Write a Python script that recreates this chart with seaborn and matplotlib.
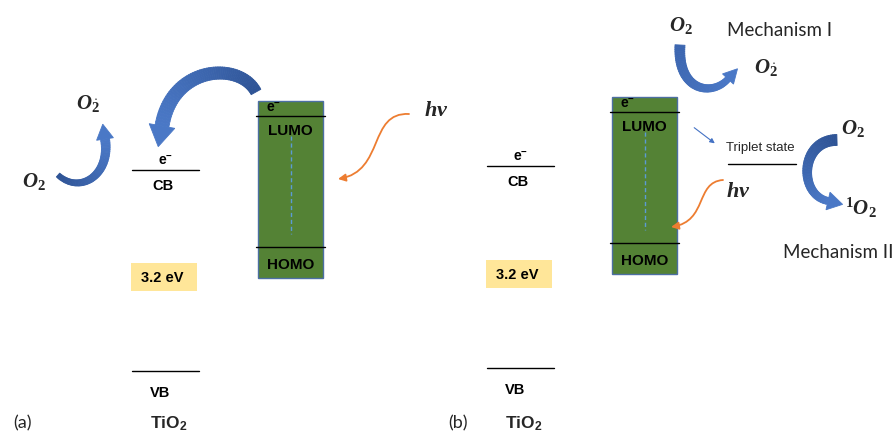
import numpy as np
import pandas as pd
import seaborn as sns
import matplotlib
matplotlib.use("Agg")
import matplotlib.pyplot as plt
from matplotlib.patches import Rectangle, Polygon, FancyArrowPatch
from matplotlib.collections import PolyCollection
from matplotlib.colors import LinearSegmentedColormap
from matplotlib.path import Path

# ---- diagram content -------------------------------------------------------
panel_labels = ["(a)", "(b)"]
panel_x = [23, 458]                 # label column for (a)/(b)
tio2_left = [132, 487]              # TiO2 band lines start
tio2_cb = [171, 167]                # conduction band level
tio2_vb = [372, 369]                # valence band level
gap_box_top = [264, 261]
gap_text = "3.2 eV"

dye_left = [258, 612]
dye_top = [102, 98]
dye_bottom = [279, 275]
dye_lumo = [117, 113]
dye_homo = [248, 244]

triplet_level = 165
triplet_left = 728

BAND_W = 67
DYE_W = 65

GREEN = "#548235"
ORANGE = "#ED7D31"
BLUE_DARK = "#2E5395"
BLUE_LIGHT = "#4A78C6"

sns.set_theme(style="white")
plt.rcParams["font.family"] = ["Liberation Sans", "DejaVu Sans"]
plt.rcParams.update({
    "mathtext.fontset": "custom",
    "mathtext.rm": "Liberation Serif",
    "mathtext.it": "Liberation Serif:italic",
    "mathtext.bf": "Liberation Serif:bold",
    "mathtext.bfit": "Liberation Serif:italic:bold",
    "mathtext.sf": "Liberation Sans:bold",
})

fig = plt.figure(figsize=(8.94, 4.35), dpi=100)
ax = fig.add_axes([0, 0, 1, 1])


def cubic(ctrl, n=60):
    c = np.asarray(ctrl, float)
    t = np.linspace(0, 1, n)[:, None]
    return ((1 - t) ** 3 * c[0] + 3 * (1 - t) ** 2 * t * c[1]
            + 3 * (1 - t) * t ** 2 * c[2] + t ** 3 * c[3])


def block_arrow(ctrl, w0, w1, head_w, head_len, c0=BLUE_DARK, c1=BLUE_LIGHT, n=60):
    """Thick curved arrow with a colour gradient from tail to head."""
    pts = cubic(ctrl, n)
    d = np.gradient(pts, axis=0)
    d /= np.linalg.norm(d, axis=1, keepdims=True)
    nrm = np.stack([-d[:, 1], d[:, 0]], axis=1)
    w = np.linspace(w0, w1, n)[:, None] / 2
    left, right = pts + nrm * w, pts - nrm * w
    cmap = LinearSegmentedColormap.from_list("blk", [c0, c1])
    quads = [[left[i], left[i + 1], right[i + 1], right[i]] for i in range(n - 1)]
    cols = cmap(np.linspace(0, 1, n - 1))
    ax.add_collection(PolyCollection(quads, facecolors=cols, edgecolors=cols,
                                     linewidths=0.6, zorder=3))
    tip = pts[-1] + d[-1] * head_len
    head = [pts[-1] + nrm[-1] * head_w / 2, tip, pts[-1] - nrm[-1] * head_w / 2]
    ax.add_patch(Polygon(head, closed=True, facecolor=c1, edgecolor=c1,
                         lw=0.6, zorder=3))


def light_arrow(ctrl):
    path = Path(ctrl, [Path.MOVETO, Path.CURVE4, Path.CURVE4, Path.CURVE4])
    ax.add_patch(FancyArrowPatch(path=path, arrowstyle="-|>", mutation_scale=11,
                                 color=ORANGE, lw=1.3, zorder=4))


# ---- energy level lines ----------------------------------------------------
rows = []
for i in range(2):
    for name, y, x0, w in [("cb", tio2_cb[i], tio2_left[i], BAND_W),
                           ("vb", tio2_vb[i], tio2_left[i], BAND_W),
                           ("lumo", dye_lumo[i], dye_left[i] - 2, DYE_W + 4),
                           ("homo", dye_homo[i], dye_left[i] - 2, DYE_W + 4)]:
        rows += [{"x": x0, "y": y, "line": f"{name}{i}"},
                 {"x": x0 + w, "y": y, "line": f"{name}{i}"}]
rows += [{"x": triplet_left, "y": triplet_level, "line": "triplet"},
         {"x": triplet_left + 68, "y": triplet_level, "line": "triplet"}]
levels = pd.DataFrame(rows)

# dye (HOMO-LUMO) boxes
for i in range(2):
    ax.add_patch(Rectangle((dye_left[i], dye_top[i]), DYE_W,
                           dye_bottom[i] - dye_top[i], facecolor=GREEN,
                           edgecolor="#4D6FA3", lw=1.0, zorder=1))
    xm = dye_left[i] + DYE_W / 2
    ax.plot([xm, xm], [dye_lumo[i] + 20, dye_homo[i] - 13], color="#5B9BD5",
            lw=1.0, dashes=(3, 2), zorder=2)

sns.lineplot(data=levels, x="x", y="y", units="line", estimator=None,
             sort=False, color="black", lw=1.0, ax=ax, zorder=2)

# ---- labels on levels ------------------------------------------------------
bold = dict(fontweight="bold", ha="center", va="center", color="black")
for i in range(2):
    xc = tio2_left[i] + BAND_W / 2
    ax.text(xc, tio2_cb[i] - 10, r"e$^{\mathsf{-}}$", fontsize=10, **bold)
    ax.text(xc - 3, tio2_cb[i] + 15, "CB", fontsize=10.5, **bold)
    ax.add_patch(Rectangle((tio2_left[i] - 1, gap_box_top[i]), 66, 28,
                           facecolor="#FFE699", edgecolor="none", zorder=1))
    ax.text(xc - 3, gap_box_top[i] + 14, gap_text, fontsize=10.5, **bold)
    ax.text(xc - 5, tio2_vb[i] + 21, "VB", fontsize=10.5, **bold)
    ax.text(xc + 3, 433, r"TiO$_{\mathsf{2}}$", fontsize=12.5,
            fontweight="bold", ha="center", va="bottom")
    ax.text(panel_x[i], 423, panel_labels[i], fontsize=13, family="Lato",
            ha="center", va="center")

    xm = dye_left[i] + DYE_W / 2
    ax.text(dye_left[i] + 16, dye_lumo[i] - 9, r"e$^{\mathsf{-}}$", fontsize=10, **bold)
    ax.text(xm, dye_lumo[i] + 14, "LUMO", fontsize=11, **bold)
    ax.text(xm, dye_homo[i] + 17, "HOMO", fontsize=11, **bold)

O2 = r"$\mathbfit{O}_{\mathbf{2}}$"
O2_rad = r"$\mathbfit{O}_{\dot{\mathbf{2}}}$"
O2_singlet = r"$^{\mathbf{1}}\mathbfit{O}_{\mathbf{2}}$"
HV = r"$\mathbfit{hv}$"
mt = dict(fontsize=15, ha="center", va="center")

# panel (a)
ax.text(34, 182, O2, **mt)
ax.text(88, 103, O2_rad, **mt)
ax.text(436, 110, HV, fontsize=16, ha="center", va="center")
block_arrow([(256, 93), (240, 62), (172, 66), (162, 127)], 11, 14, 26, 21)
block_arrow([(58, 176), (80, 196), (111, 176), (105, 140)], 5, 9, 17, 15)
light_arrow([(409, 115), (368, 113), (385, 172), (338, 180)])

# panel (b)
ax.text(681, 26, O2, **mt)
ax.text(766, 67, O2_rad, **mt)
ax.text(853, 129, O2, **mt)
ax.text(861, 208, O2_singlet, **mt)
ax.text(738, 192, HV, fontsize=16, ha="center", va="center")
ax.text(760, 148, "Triplet state", fontsize=9.5, ha="center", va="center")
ax.text(780, 30, "Mechanism I", fontsize=13.5, family="Lato", ha="center", va="center")
ax.text(838, 253, "Mechanism II", fontsize=13.5, family="Lato", ha="center", va="center")
block_arrow([(680, 46), (677, 92), (712, 98), (728, 80)], 10, 6, 15, 14,
            c0="#3C66B0", c1=BLUE_LIGHT)
block_arrow([(837, 141), (800, 141), (798, 196), (828, 202)], 11, 7, 18, 15)
light_arrow([(723, 181), (695, 183), (708, 222), (671, 228)])
ax.add_patch(FancyArrowPatch((692, 127), (717, 146), arrowstyle="-|>",
                             mutation_scale=7, color="#4472C4", lw=0.8, zorder=4))

ax.set_xlim(0, 894)
ax.set_ylim(435, 0)
ax.set_axis_off()
fig.savefig("out.png", dpi=100, facecolor="white")
